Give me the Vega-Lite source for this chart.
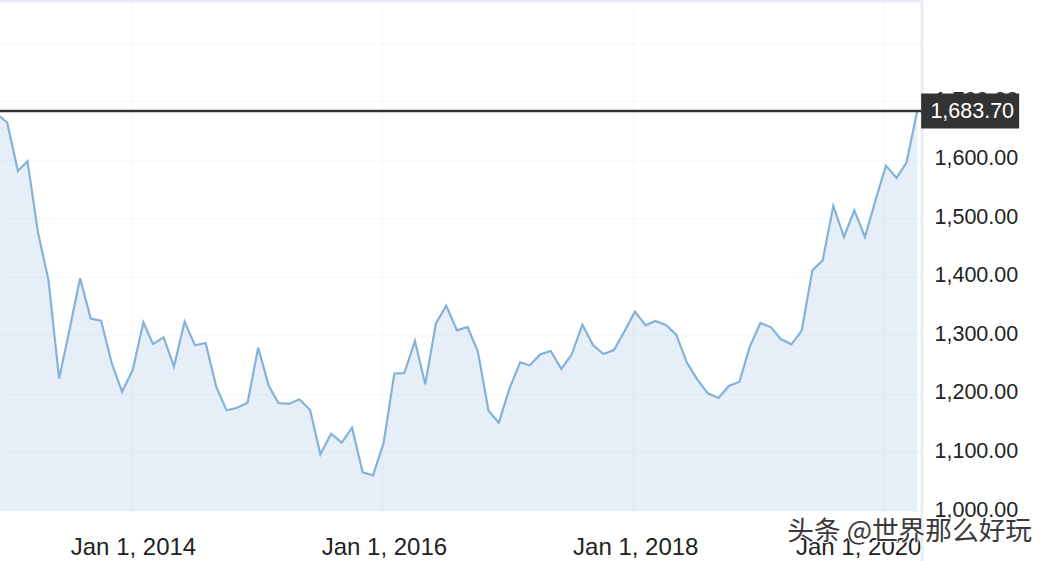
{
  "$schema": "https://vega.github.io/schema/vega-lite/v6.json",
  "description": "Gold price, monthly, 2013 to 2020",
  "width": 921,
  "height": 511,
  "autosize": {"type": "none"},
  "padding": {"left": 0, "top": 0, "right": 127, "bottom": 50},
  "background": "#ffffff",
  "config": {
    "view": {"stroke": null},
    "font": "Liberation Sans"
  },
  "datasets": {
    "prices": [
      {"date": "2012-12-06", "price": 1679},
      {"date": "2013-01-06", "price": 1663.8},
      {"date": "2013-02-06", "price": 1581.2},
      {"date": "2013-03-06", "price": 1597.8},
      {"date": "2013-04-06", "price": 1474.7},
      {"date": "2013-05-06", "price": 1394.9},
      {"date": "2013-06-06", "price": 1226.3},
      {"date": "2013-07-06", "price": 1309.4},
      {"date": "2013-08-06", "price": 1397.7},
      {"date": "2013-09-06", "price": 1328.8},
      {"date": "2013-10-06", "price": 1325.4},
      {"date": "2013-11-06", "price": 1252.5},
      {"date": "2013-12-06", "price": 1204},
      {"date": "2014-01-06", "price": 1241},
      {"date": "2014-02-06", "price": 1322.5},
      {"date": "2014-03-06", "price": 1285.5},
      {"date": "2014-04-06", "price": 1296.9},
      {"date": "2014-05-06", "price": 1246.8},
      {"date": "2014-06-06", "price": 1323.7},
      {"date": "2014-07-06", "price": 1283.2},
      {"date": "2014-08-06", "price": 1287.2},
      {"date": "2014-09-06", "price": 1212.6},
      {"date": "2014-10-06", "price": 1172.1},
      {"date": "2014-11-06", "price": 1176.5},
      {"date": "2014-12-06", "price": 1185.2},
      {"date": "2015-01-06", "price": 1279.2},
      {"date": "2015-02-06", "price": 1213.7},
      {"date": "2015-03-06", "price": 1184.6},
      {"date": "2015-04-06", "price": 1183},
      {"date": "2015-05-06", "price": 1190.9},
      {"date": "2015-06-06", "price": 1172.7},
      {"date": "2015-07-06", "price": 1096.9},
      {"date": "2015-08-06", "price": 1132.2},
      {"date": "2015-09-06", "price": 1116.8},
      {"date": "2015-10-06", "price": 1142.5},
      {"date": "2015-11-06", "price": 1066.1},
      {"date": "2015-12-06", "price": 1061},
      {"date": "2016-01-06", "price": 1116.8},
      {"date": "2016-02-06", "price": 1234.8},
      {"date": "2016-03-06", "price": 1235.9},
      {"date": "2016-04-06", "price": 1290.6},
      {"date": "2016-05-06", "price": 1216.6},
      {"date": "2016-06-06", "price": 1320.8},
      {"date": "2016-07-06", "price": 1351},
      {"date": "2016-08-06", "price": 1308.9},
      {"date": "2016-09-06", "price": 1314.6},
      {"date": "2016-10-06", "price": 1272.4},
      {"date": "2016-11-06", "price": 1171.5},
      {"date": "2016-12-06", "price": 1151},
      {"date": "2017-01-06", "price": 1209.7},
      {"date": "2017-02-06", "price": 1254.2},
      {"date": "2017-03-06", "price": 1249},
      {"date": "2017-04-06", "price": 1267.8},
      {"date": "2017-05-06", "price": 1273.5},
      {"date": "2017-06-06", "price": 1242.8},
      {"date": "2017-07-06", "price": 1267.8},
      {"date": "2017-08-06", "price": 1318.5},
      {"date": "2017-09-06", "price": 1283.8},
      {"date": "2017-10-06", "price": 1268.4},
      {"date": "2017-11-06", "price": 1275.2},
      {"date": "2017-12-06", "price": 1306.6},
      {"date": "2018-01-06", "price": 1340.8},
      {"date": "2018-02-06", "price": 1317.4},
      {"date": "2018-03-06", "price": 1324.8},
      {"date": "2018-04-06", "price": 1318},
      {"date": "2018-05-06", "price": 1301.5},
      {"date": "2018-06-06", "price": 1253.6},
      {"date": "2018-07-06", "price": 1225},
      {"date": "2018-08-06", "price": 1201.2},
      {"date": "2018-09-06", "price": 1193.2},
      {"date": "2018-10-06", "price": 1213.7},
      {"date": "2018-11-06", "price": 1221.1},
      {"date": "2018-12-06", "price": 1281},
      {"date": "2019-01-06", "price": 1321.4},
      {"date": "2019-02-06", "price": 1314},
      {"date": "2019-03-06", "price": 1294},
      {"date": "2019-04-06", "price": 1284.9},
      {"date": "2019-05-06", "price": 1308.3},
      {"date": "2019-06-06", "price": 1411.4},
      {"date": "2019-07-06", "price": 1428.5},
      {"date": "2019-08-06", "price": 1521.4},
      {"date": "2019-09-06", "price": 1468.4},
      {"date": "2019-10-06", "price": 1514},
      {"date": "2019-11-06", "price": 1468.4},
      {"date": "2019-12-06", "price": 1530},
      {"date": "2020-01-06", "price": 1590.4},
      {"date": "2020-02-06", "price": 1569.3},
      {"date": "2020-03-06", "price": 1596},
      {"date": "2020-04-06", "price": 1683.7}
    ]
  },
  "layer": [
    {
      "data": {"name": "prices"},
      "mark": {"type": "area", "clip": true, "color": "#7aa7d2", "opacity": 0.185},
      "encoding": {
        "x": {
          "field": "date",
          "type": "temporal",
          "title": null,
          "scale": {
            "type": "utc",
            "nice": false,
            "domain": [
              {"year": 2012, "month": 12, "date": 16, "utc": true},
              {"year": 2020, "month": 4, "date": 17, "utc": true}
            ]
          },
          "axis": {
            "values": [
              {"year": 2014, "month": 1, "date": 1, "utc": true},
              {"year": 2016, "month": 1, "date": 1, "utc": true},
              {"year": 2018, "month": 1, "date": 1, "utc": true},
              {"year": 2020, "month": 1, "date": 1, "utc": true}
            ],
            "format": "%b %-d, %Y",
            "labelFont": "Liberation Sans",
            "labelFontSize": 24,
            "labelColor": "#222222",
            "labelPadding": 24,
            "labelOverlap": false,
            "labelOffset": {"condition": {"test": "utcyear(datum.value) === 2020", "value": -26}, "value": 2},
            "ticks": false,
            "domain": false,
            "grid": true,
            "gridColor": "#f8f9fb",
            "gridWidth": 1.5
          }
        },
        "y": {
          "field": "price",
          "type": "quantitative",
          "title": null,
          "scale": {"domain": [1000, 1873.5], "nice": false, "zero": false},
          "axis": {
            "orient": "right",
            "values": [1000, 1100, 1200, 1300, 1400, 1500, 1600, 1700, 1800],
            "labelExpr": "datum.value > 1700 ? '' : format(datum.value, ',.2f')",
            "labelFont": "Liberation Sans",
            "labelFontSize": 21.5,
            "labelColor": "#222222",
            "labelPadding": 13,
            "labelOffset": -1,
            "labelAlign": "left",
            "labelOverlap": false,
            "ticks": false,
            "domain": false,
            "grid": true,
            "gridColor": "#f8f9fb",
            "gridWidth": 1.5
          }
        }
      }
    },
    {
      "data": {"name": "prices"},
      "mark": {"type": "line", "clip": true, "color": "#85b2da", "strokeWidth": 2.2},
      "encoding": {
        "x": {"field": "date", "type": "temporal"},
        "y": {"field": "price", "type": "quantitative"}
      }
    },
    {
      "data": {"values": [{"edge": 1872}]},
      "mark": {"type": "rule", "color": "#e8ecf4", "strokeWidth": 3},
      "encoding": {"y": {"field": "edge", "type": "quantitative"}}
    },
    {
      "data": {"values": [{"from": 1873.5, "to": 914.5}]},
      "mark": {"type": "rule", "color": "#e8ecf4", "strokeWidth": 3},
      "encoding": {
        "x": {"datum": {"year": 2020, "month": 4, "date": 20, "utc": true}, "type": "temporal"},
        "y": {"field": "from", "type": "quantitative"},
        "y2": {"field": "to"}
      }
    },
    {
      "data": {"values": [{"price": 1683.7}]},
      "mark": {"type": "rule", "color": "#333333", "strokeWidth": 2.6},
      "encoding": {"y": {"field": "price", "type": "quantitative"}}
    },
    {
      "data": {"values": [{"price": 1683.7}]},
      "mark": {"type": "tick", "orient": "horizontal", "color": "#333333", "opacity": 1, "size": 98, "thickness": 35},
      "encoding": {
        "x": {"datum": {"year": 2020, "month": 9, "date": 7, "utc": true}, "type": "temporal"},
        "y": {"field": "price", "type": "quantitative"}
      }
    },
    {
      "data": {"values": [{"price": 1683.7, "label": "1,683.70"}]},
      "mark": {"type": "text", "color": "#ffffff", "font": "Liberation Sans", "fontSize": 21.5, "align": "center", "baseline": "middle", "dy": 1},
      "encoding": {
        "x": {"datum": {"year": 2020, "month": 9, "date": 13, "utc": true}, "type": "temporal"},
        "y": {"field": "price", "type": "quantitative"},
        "text": {"field": "label"}
      }
    },
    {
      "data": {"values": [{"price": 964, "label": "头条 @世界那么好玩"}]},
      "mark": {"type": "text", "color": "#ffffff", "stroke": "#ffffff", "strokeWidth": 2, "font": "Noto Sans CJK SC", "fontSize": 26.7, "align": "center", "baseline": "middle"},
      "encoding": {
        "x": {"datum": {"year": 2020, "month": 3, "date": 15, "utc": true}, "type": "temporal"},
        "y": {"field": "price", "type": "quantitative"},
        "text": {"field": "label"}
      }
    },
    {
      "data": {"values": [{"price": 964, "label": "头条 @世界那么好玩"}]},
      "mark": {"type": "text", "color": "#3a3a3a", "font": "Noto Sans CJK SC", "fontSize": 26.7, "align": "center", "baseline": "middle"},
      "encoding": {
        "x": {"datum": {"year": 2020, "month": 3, "date": 15, "utc": true}, "type": "temporal"},
        "y": {"field": "price", "type": "quantitative"},
        "text": {"field": "label"}
      }
    }
  ]
}
